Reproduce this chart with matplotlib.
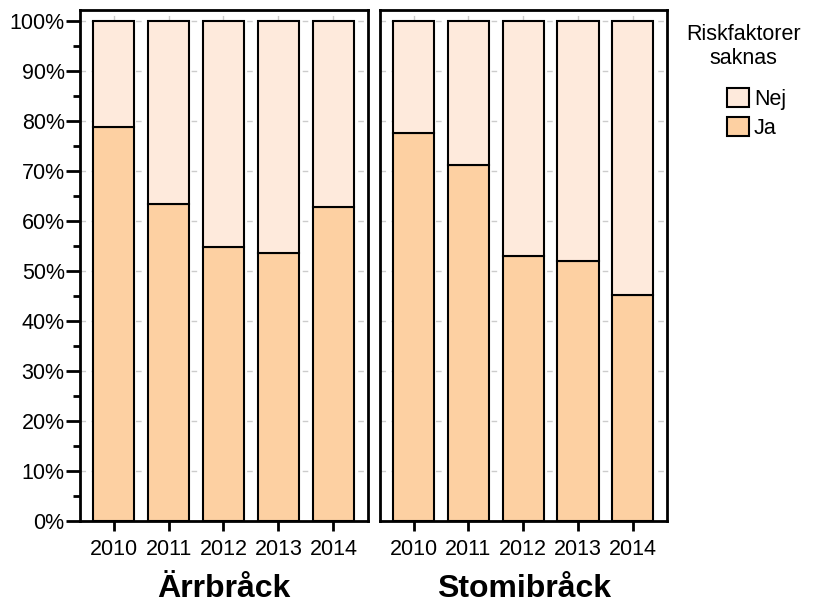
import numpy as np
import matplotlib.pyplot as plt
from matplotlib.patches import Patch
from matplotlib.ticker import MultipleLocator, PercentFormatter

plt.rcParams['font.family'] = ['Liberation Sans', 'DejaVu Sans']

years = ["2010", "2011", "2012", "2013", "2014"]
panels = ["Ärrbråck", "Stomibråck"]
# andel "Ja" (riskfaktorer saknas) i procent
ja = {
    "Ärrbråck": [78.9, 63.4, 54.8, 53.6, 62.8],
    "Stomibråck": [77.7, 71.2, 53.1, 52.0, 45.2],
}
col_ja = "#FDD0A2"
col_nej = "#FEEADC"

fig = plt.figure(figsize=(8.29, 6.03), dpi=100)
axes = [fig.add_axes([0.0965, 0.136, 0.3475, 0.8474]),
        fig.add_axes([0.4585, 0.136, 0.3465, 0.8474])]

x = np.arange(len(years))
for i, (ax, name) in enumerate(zip(axes, panels)):
    v = np.array(ja[name])
    ax.bar(x, v, width=0.75, color=col_ja, edgecolor="black", linewidth=1.5, zorder=3)
    ax.bar(x, 100 - v, bottom=v, width=0.75, color=col_nej, edgecolor="black",
           linewidth=1.5, zorder=3)
    ax.set_xlim(-0.61, 4.63)
    ax.set_ylim(0, 102.2)
    ax.set_xticks(x)
    ax.set_xticklabels(years, fontsize=15.5)
    ax.yaxis.set_major_locator(MultipleLocator(10))
    ax.yaxis.set_minor_locator(MultipleLocator(5))
    ax.yaxis.set_major_formatter(PercentFormatter(decimals=0))
    ax.grid(True, color="#cccccc", linestyle=(0, (4, 4)), linewidth=1, zorder=0)
    ax.tick_params(axis="x", length=7, width=2, pad=6)
    ax.tick_params(axis="y", which="major", length=10, width=2, labelsize=15.5, pad=1)
    ax.tick_params(axis="y", which="minor", length=5, width=2)
    for s in ax.spines.values():
        s.set_linewidth(2)
    ax.set_xlabel(name, fontsize=23, fontweight="bold", labelpad=10)
    if i == 1:
        ax.tick_params(axis="y", which="both", left=False, labelleft=False)

fig.text(0.897, 0.960, "Riskfaktorer\nsaknas", ha="center", va="top",
         fontsize=15.5, linespacing=1.15)
handles = [Patch(facecolor=col_nej, edgecolor="black", linewidth=1.5, label="Nej"),
           Patch(facecolor=col_ja, edgecolor="black", linewidth=1.5, label="Ja")]
fig.legend(handles=handles, loc="upper left", bbox_to_anchor=(0.877, 0.854),
           frameon=False, fontsize=15.5, handlelength=1.0, handleheight=1.0,
           handletextpad=0.25, labelspacing=0.3, borderpad=0, borderaxespad=0)

fig.savefig("out.png", dpi=100)
